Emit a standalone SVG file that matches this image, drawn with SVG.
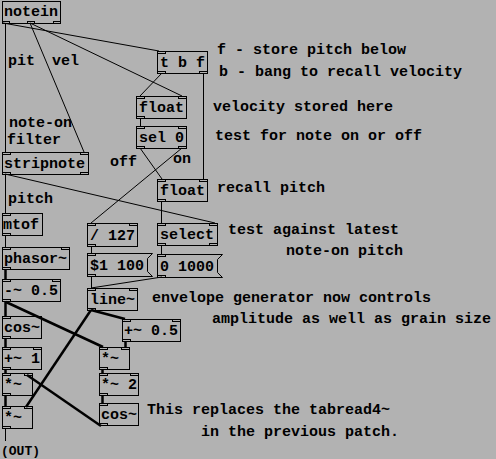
<svg xmlns="http://www.w3.org/2000/svg" width="496" height="459" viewBox="0 0 496 459">
<style>
.bg{fill:#b2b2b2}
.box{fill:none;stroke:#000;stroke-width:1}
.io{fill:none;stroke:#000;stroke-width:1}
.t{font-family:"Liberation Mono","Courier New",monospace;font-weight:bold;font-size:15px;fill:#000}
.s{font-size:13px}
.c{stroke:#000;stroke-width:1;fill:none}
.sig{stroke:#000;stroke-width:2.5;fill:none}
</style>
<rect class="bg" x="0" y="0" width="496" height="459"/>
<g id="connectors">
<line class="c" x1="5.5" y1="23" x2="5.5" y2="152"/>
<line class="c" x1="3" y1="23" x2="159" y2="51"/>
<line class="c" x1="30" y1="23" x2="84" y2="152"/>
<line class="c" x1="30" y1="23" x2="182" y2="96"/>
<line class="c" x1="162" y1="73" x2="140" y2="96"/>
<line class="c" x1="203.5" y1="73" x2="203.5" y2="179"/>
<line class="c" x1="140.5" y1="118" x2="140.5" y2="126"/>
<line class="c" x1="140" y1="148" x2="162" y2="179"/>
<line class="c" x1="182" y1="148" x2="91" y2="223"/>
<line class="c" x1="5.5" y1="174" x2="5.5" y2="213"/>
<line class="c" x1="5" y1="174" x2="215" y2="223"/>
<line class="c" x1="161.5" y1="202" x2="161.5" y2="223"/>
<line class="c" x1="161.5" y1="245" x2="161.5" y2="254"/>
<line class="c" x1="91.5" y1="247" x2="91.5" y2="253"/>
<line class="c" x1="91.5" y1="277" x2="91.5" y2="288"/>
<line class="c" x1="162" y1="277" x2="91" y2="288"/>
<line class="c" x1="5.5" y1="235" x2="5.5" y2="247"/>
<line class="sig" x1="5.5" y1="269" x2="5.5" y2="279"/>
<line class="sig" x1="5.5" y1="302" x2="5.5" y2="316"/>
<line class="sig" x1="6" y1="302" x2="103" y2="347"/>
<line class="sig" x1="91" y1="310" x2="125" y2="319"/>
<line class="sig" x1="91" y1="310" x2="26" y2="407"/>
<line class="sig" x1="5.5" y1="338" x2="5.5" y2="347"/>
<line class="sig" x1="125.5" y1="342" x2="125.5" y2="347"/>
<line class="sig" x1="5.5" y1="370" x2="5.5" y2="373"/>
<line class="sig" x1="102.5" y1="370" x2="102.5" y2="373"/>
<line class="sig" x1="5.5" y1="396" x2="5.5" y2="407"/>
<line class="sig" x1="102.5" y1="396" x2="102.5" y2="403"/>
<line class="sig" x1="101" y1="426" x2="27" y2="375"/>
<line class="c" x1="5.5" y1="429" x2="5.5" y2="441"/>
</g>
<g id="notein"><rect class="box" x="2.5" y="1.5" width="58" height="22"/><rect class="io" x="2.5" y="21.5" width="7" height="2"/><rect class="io" x="27.5" y="21.5" width="7" height="2"/><rect class="io" x="53.5" y="21.5" width="7" height="2"/><text class="t" x="4" y="16">notein</text></g>
<g id="tbf"><rect class="box" x="157.5" y="51.5" width="50" height="22"/><rect class="io" x="157.5" y="51.5" width="8" height="2"/><rect class="io" x="157.5" y="71.5" width="8" height="2"/><rect class="io" x="199.5" y="71.5" width="8" height="2"/><text class="t" x="160" y="67">t b f</text></g>
<g id="float1"><rect class="box" x="136.5" y="96.5" width="50" height="22"/><rect class="io" x="136.5" y="96.5" width="8" height="2"/><rect class="io" x="178.5" y="96.5" width="8" height="2"/><rect class="io" x="136.5" y="116.5" width="8" height="2"/><text class="t" x="139" y="112">float</text></g>
<g id="sel0"><rect class="box" x="136.5" y="126.5" width="50" height="22"/><rect class="io" x="136.5" y="126.5" width="8" height="2"/><rect class="io" x="178.5" y="126.5" width="8" height="2"/><rect class="io" x="136.5" y="146.5" width="8" height="2"/><rect class="io" x="178.5" y="146.5" width="8" height="2"/><text class="t" x="139" y="142">sel 0</text></g>
<g id="stripnote"><rect class="box" x="2.5" y="152.5" width="86" height="22"/><rect class="io" x="2.5" y="152.5" width="8" height="2"/><rect class="io" x="80.5" y="152.5" width="8" height="2"/><rect class="io" x="2.5" y="172.5" width="8" height="2"/><rect class="io" x="80.5" y="172.5" width="8" height="2"/><text class="t" x="4" y="168">stripnote</text></g>
<g id="float2"><rect class="box" x="157.5" y="179.5" width="50" height="22"/><rect class="io" x="157.5" y="179.5" width="8" height="2"/><rect class="io" x="199.5" y="179.5" width="8" height="2"/><rect class="io" x="157.5" y="199.5" width="8" height="2"/><text class="t" x="160" y="195">float</text></g>
<g id="mtof"><rect class="box" x="2.5" y="213.5" width="40" height="22"/><rect class="io" x="2.5" y="213.5" width="8" height="2"/><rect class="io" x="2.5" y="233.5" width="8" height="2"/><text class="t" x="3" y="229">mtof</text></g>
<g id="div127"><rect class="box" x="87.5" y="223.5" width="50" height="23"/><rect class="io" x="87.5" y="223.5" width="8" height="2"/><rect class="io" x="129.5" y="223.5" width="8" height="2"/><rect class="io" x="87.5" y="244.5" width="8" height="2"/><text class="t" x="90" y="240">/ 127</text></g>
<g id="select"><rect class="box" x="157.5" y="223.5" width="60" height="22"/><rect class="io" x="157.5" y="223.5" width="8" height="2"/><rect class="io" x="209.5" y="223.5" width="8" height="2"/><rect class="io" x="157.5" y="243.5" width="8" height="2"/><rect class="io" x="209.5" y="243.5" width="8" height="2"/><text class="t" x="160" y="239">select</text></g>
<g id="phasor"><rect class="box" x="2.5" y="247.5" width="67" height="22"/><rect class="io" x="2.5" y="247.5" width="8" height="2"/><rect class="io" x="61.5" y="247.5" width="8" height="2"/><rect class="io" x="2.5" y="267.5" width="8" height="2"/><text class="t" x="4" y="263">phasor~</text></g>
<g id="msg1"><polygon class="box" points="87.5,253.5 152.5,253.5 147.5,258.5 147.5,271.5 152.5,276.5 87.5,276.5"/><rect class="io" x="87.5" y="253.5" width="8" height="2"/><rect class="io" x="87.5" y="274.5" width="8" height="2"/><text class="t" x="90" y="270">$1 100</text></g>
<g id="msg2"><polygon class="box" points="157.5,254.5 222.5,254.5 217.5,259.5 217.5,272.5 222.5,277.5 157.5,277.5"/><rect class="io" x="157.5" y="254.5" width="8" height="2"/><rect class="io" x="157.5" y="275.5" width="8" height="2"/><text class="t" x="160" y="271">0 1000</text></g>
<g id="minus"><rect class="box" x="2.5" y="279.5" width="58" height="22"/><rect class="io" x="2.5" y="279.5" width="8" height="2"/><rect class="io" x="52.5" y="279.5" width="8" height="2"/><rect class="io" x="2.5" y="299.5" width="8" height="2"/><text class="t" x="4" y="295">-~ 0.5</text></g>
<g id="line"><rect class="box" x="87.5" y="288.5" width="50" height="22"/><rect class="io" x="87.5" y="288.5" width="8" height="2"/><rect class="io" x="129.5" y="288.5" width="8" height="2"/><rect class="io" x="87.5" y="308.5" width="8" height="2"/><text class="t" x="90" y="304">line~</text></g>
<g id="cos1"><rect class="box" x="2.5" y="316.5" width="39" height="22"/><rect class="io" x="2.5" y="316.5" width="8" height="2"/><rect class="io" x="2.5" y="336.5" width="8" height="2"/><text class="t" x="4" y="332">cos~</text></g>
<g id="plus05"><rect class="box" x="122.5" y="319.5" width="58" height="22"/><rect class="io" x="122.5" y="319.5" width="8" height="2"/><rect class="io" x="172.5" y="319.5" width="8" height="2"/><rect class="io" x="122.5" y="339.5" width="8" height="2"/><text class="t" x="124" y="335">+~ 0.5</text></g>
<g id="plus1"><rect class="box" x="2.5" y="347.5" width="39" height="22"/><rect class="io" x="2.5" y="347.5" width="8" height="2"/><rect class="io" x="33.5" y="347.5" width="8" height="2"/><rect class="io" x="2.5" y="367.5" width="8" height="2"/><text class="t" x="4" y="363">+~ 1</text></g>
<g id="mulR"><rect class="box" x="99.5" y="347.5" width="30" height="22"/><rect class="io" x="99.5" y="347.5" width="8" height="2"/><rect class="io" x="121.5" y="347.5" width="8" height="2"/><rect class="io" x="99.5" y="367.5" width="8" height="2"/><text class="t" x="101" y="363">*~</text></g>
<g id="mulL1"><rect class="box" x="2.5" y="373.5" width="30" height="22"/><rect class="io" x="2.5" y="373.5" width="8" height="2"/><rect class="io" x="24.5" y="373.5" width="8" height="2"/><rect class="io" x="2.5" y="393.5" width="8" height="2"/><text class="t" x="4" y="389">*~</text></g>
<g id="mul2"><rect class="box" x="99.5" y="373.5" width="39" height="22"/><rect class="io" x="99.5" y="373.5" width="8" height="2"/><rect class="io" x="130.5" y="373.5" width="8" height="2"/><rect class="io" x="99.5" y="393.5" width="8" height="2"/><text class="t" x="101" y="389">*~ 2</text></g>
<g id="cos2"><rect class="box" x="99.5" y="403.5" width="39" height="22"/><rect class="io" x="99.5" y="403.5" width="8" height="2"/><rect class="io" x="99.5" y="423.5" width="8" height="2"/><text class="t" x="101" y="419">cos~</text></g>
<g id="mulL2"><rect class="box" x="2.5" y="406.5" width="30" height="22"/><rect class="io" x="2.5" y="406.5" width="8" height="2"/><rect class="io" x="24.5" y="406.5" width="8" height="2"/><rect class="io" x="2.5" y="426.5" width="8" height="2"/><text class="t" x="4" y="422">*~</text></g>
<g id="comments">
<text class="t" x="8" y="65">pit</text>
<text class="t" x="52" y="65">vel</text>
<text class="t" x="9" y="127">note-on</text>
<text class="t" x="7" y="144">filter</text>
<text class="t" x="110" y="166">off</text>
<text class="t" x="173" y="163">on</text>
<text class="t" x="8" y="203">pitch</text>
<text class="t" x="217" y="54">f - store pitch below</text>
<text class="t" x="219" y="76">b - bang to recall velocity</text>
<text class="t" x="213" y="111">velocity stored here</text>
<text class="t" x="215" y="140">test for note on or off</text>
<text class="t" x="217" y="192">recall pitch</text>
<text class="t" x="228" y="234">test against latest</text>
<text class="t" x="286" y="255">note-on pitch</text>
<text class="t" x="152" y="302">envelope generator now controls</text>
<text class="t" x="212" y="323">amplitude as well as grain size</text>
<text class="t" x="147" y="414">This replaces the tabread4~</text>
<text class="t" x="201" y="436">in the previous patch.</text>
<text class="t s" x="1" y="455">(OUT)</text>
</g>
</svg>
